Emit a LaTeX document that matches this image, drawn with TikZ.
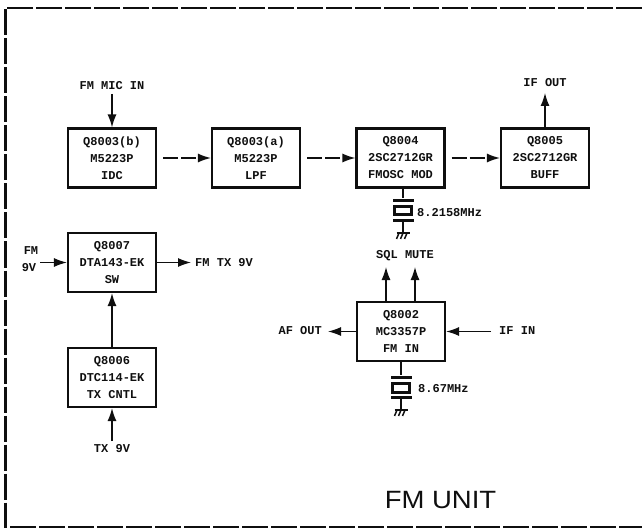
\documentclass[tikz,border=0pt]{standalone}
\usepackage{fontspec}
\setmainfont{Liberation Mono}
\newfontfamily\unitfont{Liberation Sans}
\usetikzlibrary{arrows.meta,calc}
\definecolor{inkblack}{RGB}{15,15,15}
\tikzset{
  blockbox/.style={draw=inkblack,line width=2.2pt,minimum width=88pt,minimum height=59pt,
    inner sep=0pt,align=center,text=inkblack,font=\fontsize{12}{17}\selectfont\bfseries},
  sigtext/.style={inner sep=0pt,text=inkblack,font=\fontsize{12}{14}\selectfont\bfseries},
  wire/.style={draw=inkblack,line width=1.3pt},
  sigarrow/.style={wire,-{Latex[length=13pt,width=9pt]}},
  dasharrow/.style={sigarrow,dash pattern=on 15pt off 3pt,shorten <=6pt},
  framerule/.style={draw=inkblack,line width=2.4pt,dash pattern=on 26pt off 3pt},
  xtal/.pic={
    \coordinate (-top) at (0,0);
    \coordinate (-bot) at (0,35);
    \fill[inkblack] (-10.5,1) rectangle (10.5,4);
    \draw[inkblack,line width=3pt] (-8.5,8.5) rectangle (8.5,17);
    \fill[inkblack] (-10.5,21) rectangle (10.5,24);
    \draw[wire] (0,24) -- (0,35);
    % ground
    \draw[wire,line width=1.8pt] (-6.5,35) -- (6.5,35);
    \foreach \gx in {-4,0,4}
      \draw[wire,line width=1.5pt] (\gx,35) -- (\gx-2.5,41);
  }
}
\begin{document}
\begin{tikzpicture}[x=1pt,y=-1pt]
  \useasboundingbox (0,0) rectangle (642,529);

  % --- outer frame (open on the right) ---
  \draw[framerule] (642,8) -- (5.5,8) -- (5.5,527) -- (642,527);

  % --- blocks ---
  \node[blockbox] (q3b) at (112,158) {Q8003(b)\\M5223P\\IDC};
  \node[blockbox] (q3a) at (256,158) {Q8003(a)\\M5223P\\LPF};
  \node[blockbox] (q4)  at (400.5,158) {Q8004\\2SC2712GR\\FMOSC MOD};
  \node[blockbox] (q5)  at (545,158) {Q8005\\2SC2712GR\\BUFF};
  \node[blockbox] (q7)  at (112,262.5) {Q8007\\DTA143-EK\\SW};
  \node[blockbox] (q6)  at (112,377.5) {Q8006\\DTC114-EK\\TX CNTL};
  \node[blockbox] (q2)  at (401,331.5) {Q8002\\MC3357P\\FM IN};

  % --- signal labels ---
  \node[sigtext] (micin) at (112,86) {FM MIC IN};
  \node[sigtext] (ifout) at (545,83) {IF OUT};
  \node[sigtext] (fmup)  at (31,251) {FM};
  \node[sigtext] (nineV) at (29,268) {9V};
  \node[sigtext,anchor=west] (fmtx) at (195,262.5) {FM TX 9V};
  \node[sigtext] (txnine) at (112,449) {TX 9V};
  \node[sigtext] (sql)   at (405,256) {SQL MUTE};
  \node[sigtext,anchor=east] (afout) at (322,331) {AF OUT};
  \node[sigtext,anchor=west] (ifin)  at (499,331) {IF IN};

  % --- crystals ---
  \pic (xa) at (403,198) {xtal};
  \pic (xb) at (401,375) {xtal};
  \node[sigtext,anchor=west] (fa) at (417,213) {8.2158MHz};
  \node[sigtext,anchor=west] (fb) at (418,389) {8.67MHz};
  \draw[wire] (q4.south -| xa-top) -- (xa-top);
  \draw[wire] (q2.south -| xb-top) -- (xb-top);

  % free ends
  \coordinate (sqla) at (386,267);
  \coordinate (sqlb) at (415,267);
  \coordinate (afend) at (328,331.5);
  \coordinate (ifstart) at (491,331.5);
  \coordinate (fmstart) at (40,262.5);
  \coordinate (txend) at (191,262.5);
  \coordinate (micstart) at (112,94);
  \coordinate (outend) at (545,93);
  \coordinate (txstart) at (112,441);

  % --- connectors ---
  \draw[sigarrow] (micstart) -- (q3b);
  \draw[dasharrow] (q3b) -- (q3a);
  \draw[dasharrow] (q3a) -- (q4);
  \draw[dasharrow] (q4) -- (q5);
  \draw[sigarrow] (q5) -- (outend);
  \draw[sigarrow] (fmstart) -- (q7);
  \draw[sigarrow] (q7) -- (txend);
  \draw[sigarrow] (q6) -- (q7);
  \draw[sigarrow] (txstart) -- (q6);
  \draw[sigarrow] (q2.north -| sqla) -- (sqla);
  \draw[sigarrow] (q2.north -| sqlb) -- (sqlb);
  \draw[sigarrow] (q2) -- (afend);
  \draw[sigarrow] (ifstart) -- (q2);

  % title
  \node[inner sep=0pt,text=inkblack,xscale=1.1,font=\unitfont\fontsize{25}{25}\selectfont]
    (unit) at (440.5,500) {FM UNIT};
\end{tikzpicture}
\end{document}
